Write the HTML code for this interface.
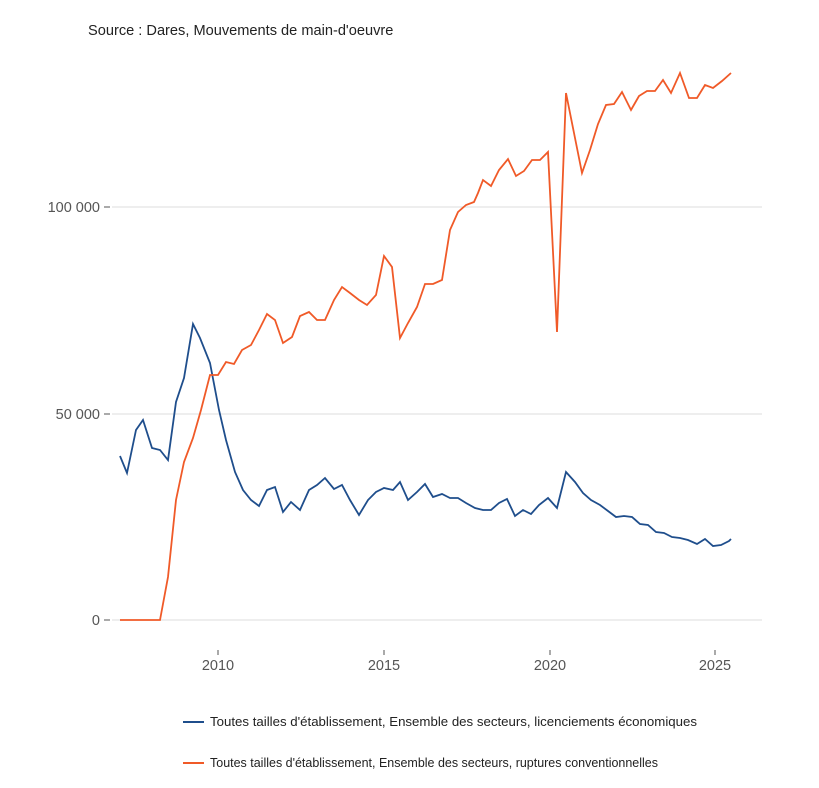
<!DOCTYPE html><html><head><style>body{margin:0;background:#fff}</style></head><body>
<svg width="819" height="783" xmlns="http://www.w3.org/2000/svg" font-family="Liberation Sans, sans-serif">
<rect width="819" height="783" fill="#fff"/>
<text x="88" y="35" font-size="14.6" fill="#222">Source : Dares, Mouvements de main-d'oeuvre</text>
<g stroke="#dcdcdc" stroke-width="1">
<line x1="112" x2="762" y1="207" y2="207"/><line x1="112" x2="762" y1="414" y2="414"/><line x1="112" x2="762" y1="620" y2="620"/>
</g>
<g stroke="#555" stroke-width="1">
<line x1="104" x2="110" y1="207" y2="207"/><line x1="104" x2="110" y1="414" y2="414"/><line x1="104" x2="110" y1="620" y2="620"/>
<line x1="218" x2="218" y1="650" y2="655"/><line x1="384" x2="384" y1="650" y2="655"/><line x1="550" x2="550" y1="650" y2="655"/><line x1="715" x2="715" y1="650" y2="655"/>
</g>
<g font-size="14.5" fill="#555" text-anchor="end">
<text x="100" y="212">100 000</text><text x="100" y="419">50 000</text><text x="100" y="625">0</text>
</g>
<g font-size="14.5" fill="#555" text-anchor="middle">
<text x="218" y="670">2010</text><text x="384" y="670">2015</text><text x="550" y="670">2020</text><text x="715" y="670">2025</text>
</g>
<polyline fill="none" stroke="#1f4e8c" stroke-width="1.8" points="120,456 127,473 136,430 143,420 152,448 160,450 168,460 176,402 184,378 193,324 200,338 210,363 219,410 226,440 235,472 243,490 251,500 259,506 267,490 275,487 283,512 291,502 300,510 309,490 317,485 325,478 334,489 342,485 350,500 359,515 368,500 376,492 384,488 393,490 400,482 408,500 417,492 425,484 433,497 442,494 450,498 458,498 466,503 475,508 483,510 491,510 499,503 507,499 515,516 523,510 531,514 539,505 548,498 557,508 566,472 575,482 583,493 591,500 600,505 608,511 616,517 624,516 632,517 640,524 648,525 656,532 664,533 672,537 680,538 688,540 697,544 705,539 713,546 721,545 729,541 731,539"/>
<polyline fill="none" stroke="#f05a28" stroke-width="1.8" points="120,620 160,620 168,577 176,500 184,462 193,438 201,410 210,375 218,375 226,362 234,364 242,350 251,345 259,330 267,314 275,320 283,343 292,337 300,316 309,312 317,320 325,320 334,300 342,287 350,293 359,300 367,305 376,295 384,256 392,267 400,338 408,323 417,307 425,284 433,284 442,280 450,230 458,212 466,205 474,202 478,193 483,180 491,186 499,170 508,159 516,176 524,171 532,160 540,160 548,152 557,332 566,93 574,133 582,173 590,150 598,124 606,105 614,104 622,92 631,110 639,96 647,91 655,91 663,80 671,93 680,73 689,98 697,98 705,85 713,88 722,81 731,73"/>
<line x1="183" x2="204" y1="722" y2="722" stroke="#1f4e8c" stroke-width="2"/>
<line x1="183" x2="204" y1="763" y2="763" stroke="#f05a28" stroke-width="2"/>
<g font-size="12.5" fill="#222">
<text x="210" y="726" textLength="487" lengthAdjust="spacingAndGlyphs">Toutes tailles d'établissement, Ensemble des secteurs, licenciements économiques</text>
<text x="210" y="767" textLength="448" lengthAdjust="spacingAndGlyphs">Toutes tailles d'établissement, Ensemble des secteurs, ruptures conventionnelles</text>
</g>
</svg>
</body></html>
